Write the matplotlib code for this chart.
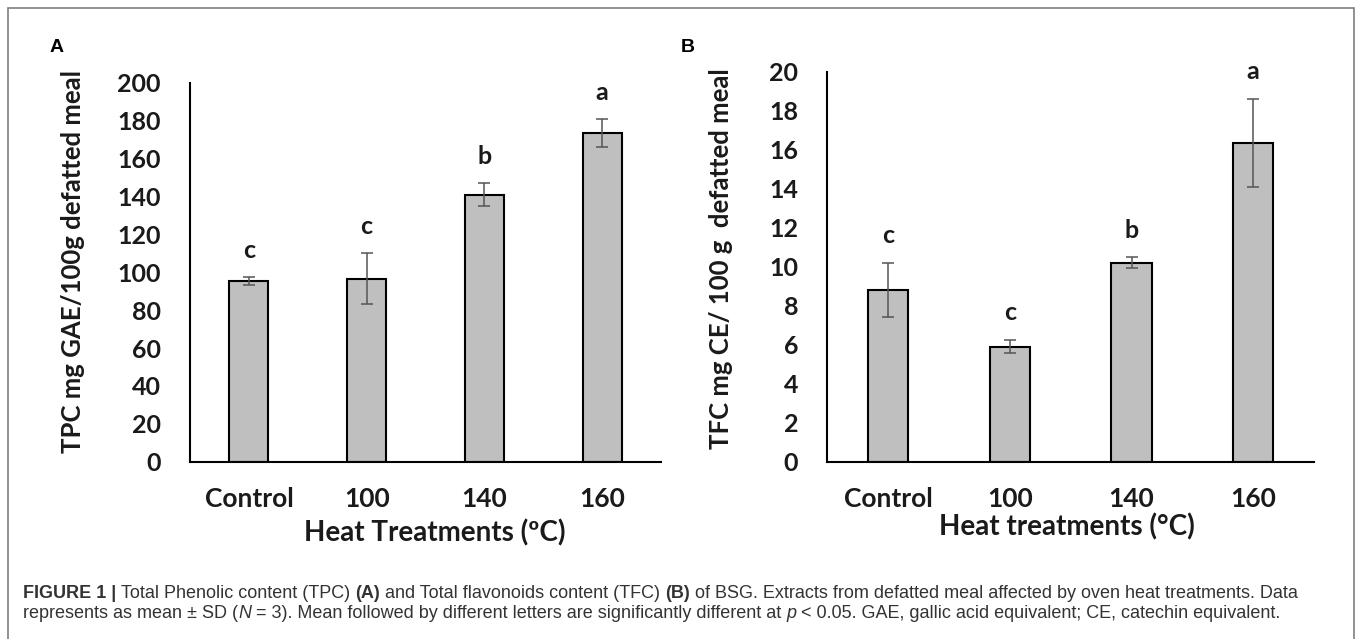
import matplotlib
matplotlib.use('Agg')
import matplotlib.pyplot as plt
from matplotlib.patches import Rectangle

plt.rcParams['font.family'] = ['Lato', 'DejaVu Sans']

categories = ['Control', '100', '140', '160']

tpc_mean = [95.5, 96.5, 141.0, 173.5]
tpc_sd = [2.2, 13.5, 6.2, 7.2]
tpc_letters = ['c', 'c', 'b', 'a']

tfc_mean = [8.8, 5.9, 10.2, 16.35]
tfc_sd = [1.4, 0.33, 0.28, 2.25]
tfc_letters = ['c', 'c', 'b', 'a']

W, H = 1357, 639
fig = plt.figure(figsize=(W / 100, H / 100), dpi=100)


def px_axes(left, top, right, bottom):
    return fig.add_axes([left / W, 1 - bottom / H, (right - left) / W, (bottom - top) / H])


def draw_panel(ax, means, sds, letters, ymax, step, ylabel, xlabel, ylab_pos, xlab_pos):
    x = range(len(categories))
    ax.bar(x, means, width=0.33, color='#bfbfbf', edgecolor='black', linewidth=1.5, zorder=2)
    ax.errorbar(x, means, yerr=sds, fmt='none', ecolor='#555555', elinewidth=1.1,
                capsize=4.3, capthick=1.1, zorder=3)
    for xi, m, s, lab in zip(x, means, sds, letters):
        ax.text(xi, m + s + 0.07 * ymax, lab, ha='center', va='center',
                fontsize=18, fontweight='bold', color='#1a1a1a')
    ax.set_xlim(-0.5, len(categories) - 0.5)
    ax.set_ylim(0, ymax)
    ax.set_yticks(range(0, ymax + 1, step))
    ax.set_xticks(list(x))
    ax.set_xticklabels(categories)
    for sp in ['top', 'right']:
        ax.spines[sp].set_visible(False)
    for sp in ['left', 'bottom']:
        ax.spines[sp].set_linewidth(1.5)
    ax.tick_params(length=0, labelsize=18, colors='#1a1a1a')
    ax.tick_params(axis='x', labelsize=19, pad=18)
    ax.tick_params(axis='y', pad=21)
    for t in ax.get_xticklabels() + ax.get_yticklabels():
        t.set_fontweight('bold')
    ax.set_ylabel(ylabel, fontsize=18.5, fontweight='bold', color='#1a1a1a')
    ax.yaxis.set_label_coords(*ylab_pos)
    ax.set_xlabel(xlabel, fontsize=20, fontweight='bold', color='#1a1a1a', va='center')
    ax.xaxis.set_label_coords(*xlab_pos)


axA = px_axes(190, 82.7, 661, 461.7)
draw_panel(axA, tpc_mean, tpc_sd, tpc_letters, 200, 20,
           'TPC mg GAE/100g defatted meal', 'Heat Treatments (ºC)',
           (-0.223, 0.528), (0.52, -0.188))

axB = px_axes(827.4, 71.7, 1314, 461.7)
draw_panel(axB, tfc_mean, tfc_sd, tfc_letters, 20, 2,
           'TFC mg CE/ 100 g  defatted meal', 'Heat treatments (°C)',
           (-0.194, 0.521), (0.4924, -0.1667))

fig.text(57 / W, 1 - 47 / H, 'A', fontsize=14, fontweight='bold',
         family='Liberation Sans', ha='center', va='center')
fig.text(688 / W, 1 - 47 / H, 'B', fontsize=14, fontweight='bold',
         family='Liberation Sans', ha='center', va='center')

# frame around the figure
fig.patches.append(Rectangle((7.5 / W, -0.05), (1354 - 7.5) / W, 1.05 - 8 / H,
                             transform=fig.transFigure, fill=False,
                             edgecolor='#7f7f7f', linewidth=1.2))

# caption drawn as runs of text
line1 = [('FIGURE 1 | ', 'bold', 'normal'),
         ('Total Phenolic content (TPC) ', 'normal', 'normal'),
         ('(A)', 'bold', 'normal'),
         (' and Total flavonoids content (TFC) ', 'normal', 'normal'),
         ('(B)', 'bold', 'normal'),
         (' of BSG. Extracts from defatted meal affected by oven heat treatments. Data', 'normal', 'normal')]
line2 = [('represents as mean \u00b1 SD (', 'normal', 'normal'),
         ('N', 'normal', 'italic'),
         (' = 3). Mean followed by different letters are significantly different at ', 'normal', 'normal'),
         ('p', 'normal', 'italic'),
         (' < 0.05. GAE, gallic acid equivalent; CE, catechin equivalent.', 'normal', 'normal')]

renderer = fig.canvas.get_renderer()


def draw_runs(runs, x0, yc, size):
    x = x0
    for s, weight, style in runs:
        t = fig.text(x / W, 1 - yc / H, s, fontsize=size, fontweight=weight, fontstyle=style,
                     family='Liberation Sans', color='#333333', ha='left', va='center')
        bb = t.get_window_extent(renderer)
        x += bb.width
    return x


cap_size = 11
end = draw_runs(line1, 23, 593, cap_size)
for t in list(fig.texts[-len(line1):]):
    t.remove()
cap_size = cap_size * (1293 - 23) / (end - 23)
draw_runs(line1, 23, 593, cap_size)
draw_runs(line2, 23, 613, cap_size)

fig.savefig('out.png', dpi=100)
